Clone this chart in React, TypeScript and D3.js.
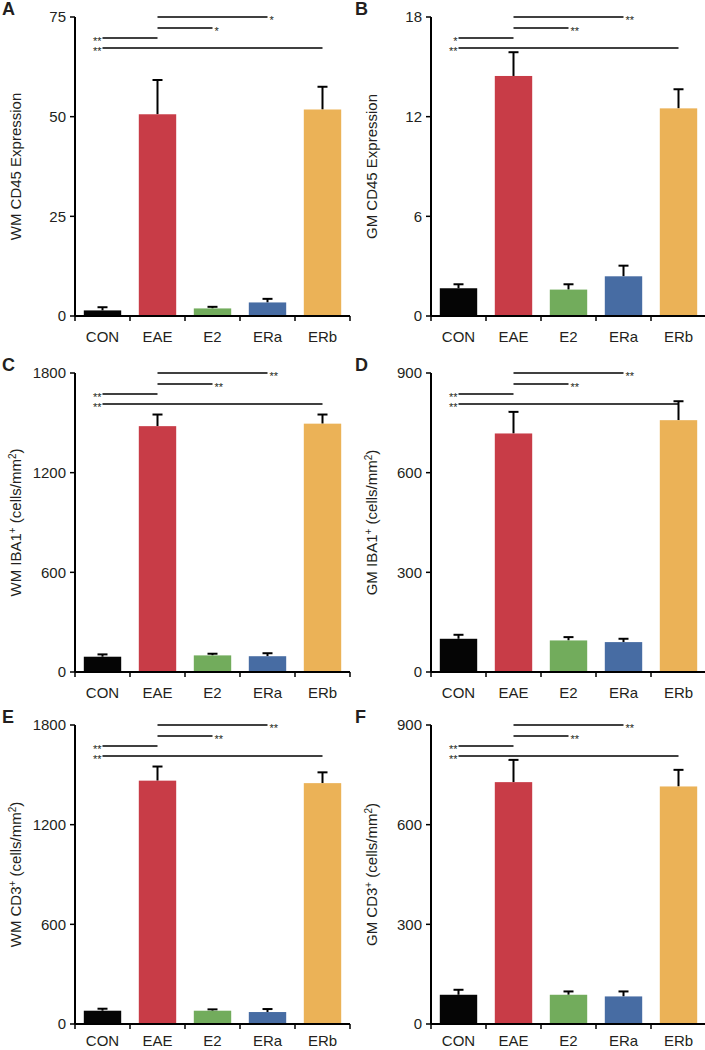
import React from "react";
import * as d3 from "d3";

const categories = ["CON", "EAE", "E2", "ERa", "ERb"];
const barColors = ["#050505", "#C83C47", "#72AC5C", "#476CA3", "#EBB257"];

const wmCD45 = [1.4, 50.6, 1.9, 3.4, 51.8];
const wmCD45Err = [0.8, 8.6, 0.4, 0.9, 5.7];
const gmCD45 = [1.67, 14.45, 1.59, 2.39, 12.5];
const gmCD45Err = [0.24, 1.43, 0.32, 0.64, 1.15];
const wmIBA1 = [92, 1480, 100, 95, 1495];
const wmIBA1Err = [14, 70, 10, 18, 55];
const gmIBA1 = [100, 718, 95, 90, 758];
const gmIBA1Err = [12, 65, 10, 10, 57];
const wmCD3 = [80, 1465, 80, 72, 1450];
const wmCD3Err = [12, 85, 8, 18, 65];
const gmCD3 = [88, 728, 88, 83, 715];
const gmCD3Err = [15, 67, 10, 15, 50];

const ticksCD45WM = [0, 25, 50, 75];
const ticksCD45GM = [0, 6, 12, 18];
const ticksCellsWM = [0, 600, 1200, 1800];
const ticksCellsGM = [0, 300, 600, 900];

const comparisons: [number, number][] = [[1, 3], [1, 2], [0, 1], [0, 4]];
const starsA = ["*", "*", "**", "**"];
const starsB = ["**", "**", "*", "**"];
const starsAll = ["**", "**", "**", "**"];

type Label = { main: string; sup1?: string; rest?: string; sup2?: string; end?: string };

const panels = [
  { letter: "A", values: wmCD45, errs: wmCD45Err, ticks: ticksCD45WM, stars: starsA, label: { main: "WM CD45 Expression" } as Label, col: 0, row: 0 },
  { letter: "B", values: gmCD45, errs: gmCD45Err, ticks: ticksCD45GM, stars: starsB, label: { main: "GM CD45 Expression" } as Label, col: 1, row: 0 },
  { letter: "C", values: wmIBA1, errs: wmIBA1Err, ticks: ticksCellsWM, stars: starsAll, label: { main: "WM IBA1", sup1: "+", rest: " (cells/mm", sup2: "2", end: ")" } as Label, col: 0, row: 1 },
  { letter: "D", values: gmIBA1, errs: gmIBA1Err, ticks: ticksCellsGM, stars: starsAll, label: { main: "GM IBA1", sup1: "+", rest: " (cells/mm", sup2: "2", end: ")" } as Label, col: 1, row: 1 },
  { letter: "E", values: wmCD3, errs: wmCD3Err, ticks: ticksCellsWM, stars: starsAll, label: { main: "WM CD3", sup1: "+", rest: " (cells/mm", sup2: "2", end: ")" } as Label, col: 0, row: 2 },
  { letter: "F", values: gmCD3, errs: gmCD3Err, ticks: ticksCellsGM, stars: starsAll, label: { main: "GM CD3", sup1: "+", rest: " (cells/mm", sup2: "2", end: ")" } as Label, col: 1, row: 2 },
];

const colAxisX = [75, 431];
const colLetterX = [2, 355];
const rowTop = [17, 373, 725];
const rowLabelOffset = [26, 26, 22];
const plotH = 299;
const bandW = 55;
const sigOffsets = [0, 11, 21, 31];
const FONT = "Arial, 'Liberation Sans', Helvetica, sans-serif";
const TXT = "#231F20";

function Panel({ p }: { p: (typeof panels)[number] }) {
  const x0 = colAxisX[p.col];
  const top = rowTop[p.row];
  const bottom = top + plotH;
  const x = d3.scaleBand<string>().domain(categories).range([x0, x0 + bandW * categories.length]).paddingInner(0.32).paddingOuter(0.16);
  const y = d3.scaleLinear().domain([0, p.ticks[p.ticks.length - 1]]).range([bottom, top]);
  const bw = x.bandwidth();
  const center = (i: number) => (x(categories[i]) as number) + bw / 2;
  const boundaries = d3.range(categories.length + 1).map((i) => x0 + i * bandW);
  const L = p.label;
  const supDy = -5.5;
  return (
    <g>
      <text x={colLetterX[p.col]} y={top - 2} fontFamily={FONT} fontWeight="bold" fontSize={18} fill={TXT}>
        {p.letter}
      </text>
      {p.values.map((v, i) => (
        <g key={i}>
          <line x1={center(i)} x2={center(i)} y1={y(v)} y2={y(v + p.errs[i])} stroke="#000" strokeWidth={2} />
          <line x1={center(i) - 5} x2={center(i) + 5} y1={y(v + p.errs[i])} y2={y(v + p.errs[i])} stroke="#000" strokeWidth={2} />
          <rect x={x(categories[i])} y={y(v)} width={bw} height={bottom - y(v)} fill={barColors[i]} />
        </g>
      ))}
      <line x1={x0} x2={x0} y1={top} y2={bottom} stroke="#000" strokeWidth={2} />
      {p.ticks.map((t) => (
        <g key={t}>
          <line x1={x0 - 5} x2={x0} y1={y(t)} y2={y(t)} stroke="#000" strokeWidth={1.5} />
          <text x={x0 - 9} y={y(t)} dy="0.36em" textAnchor="end" fontFamily={FONT} fontSize={15} fill={TXT}>
            {t}
          </text>
        </g>
      ))}
      <line x1={x0} x2={boundaries[boundaries.length - 1]} y1={bottom} y2={bottom} stroke="#000" strokeWidth={2} />
      {boundaries.map((b, i) => (
        <line key={i} x1={b} x2={b} y1={bottom} y2={bottom + 5} stroke="#000" strokeWidth={1.5} />
      ))}
      {categories.map((c, i) => (
        <text key={c} x={center(i)} y={bottom + rowLabelOffset[p.row]} textAnchor="middle" fontFamily={FONT} fontSize={15} fill={TXT}>
          {c}
        </text>
      ))}
      <text transform={`translate(${x0 - 54},${(top + bottom) / 2}) rotate(-90)`} textAnchor="middle" fontFamily={FONT} fontSize={15} fill={TXT}>
        {L.main}
        {L.sup1 && <tspan fontSize={10} dy={supDy}>{L.sup1}</tspan>}
        {L.rest && <tspan fontSize={15} dy={-supDy}>{L.rest}</tspan>}
        {L.sup2 && <tspan fontSize={10} dy={supDy}>{L.sup2}</tspan>}
        {L.end && <tspan fontSize={15} dy={-supDy}>{L.end}</tspan>}
      </text>
      {comparisons.map(([a, b], k) => {
        const yy = top + sigOffsets[k];
        const xa = center(a);
        const xb = center(b);
        const left = a === 0;
        return (
          <g key={k}>
            <line x1={xa} x2={xb} y1={yy} y2={yy} stroke="#000" strokeWidth={1.6} />
            <text
              x={left ? xa - 1 : xb + 2}
              y={yy + 7}
              textAnchor={left ? "end" : "start"}
              fontFamily={FONT}
              fontSize={11}
              fill={TXT}
            >
              {p.stars[k]}
            </text>
          </g>
        );
      })}
    </g>
  );
}

export default function App() {
  return (
    <div style={{ position: "absolute", left: 0, top: 0 }}>
      <svg width={705} height={1050} style={{ display: "block", background: "#fff" }}>
        {panels.map((p) => (
          <Panel key={p.letter} p={p} />
        ))}
      </svg>
    </div>
  );
}
